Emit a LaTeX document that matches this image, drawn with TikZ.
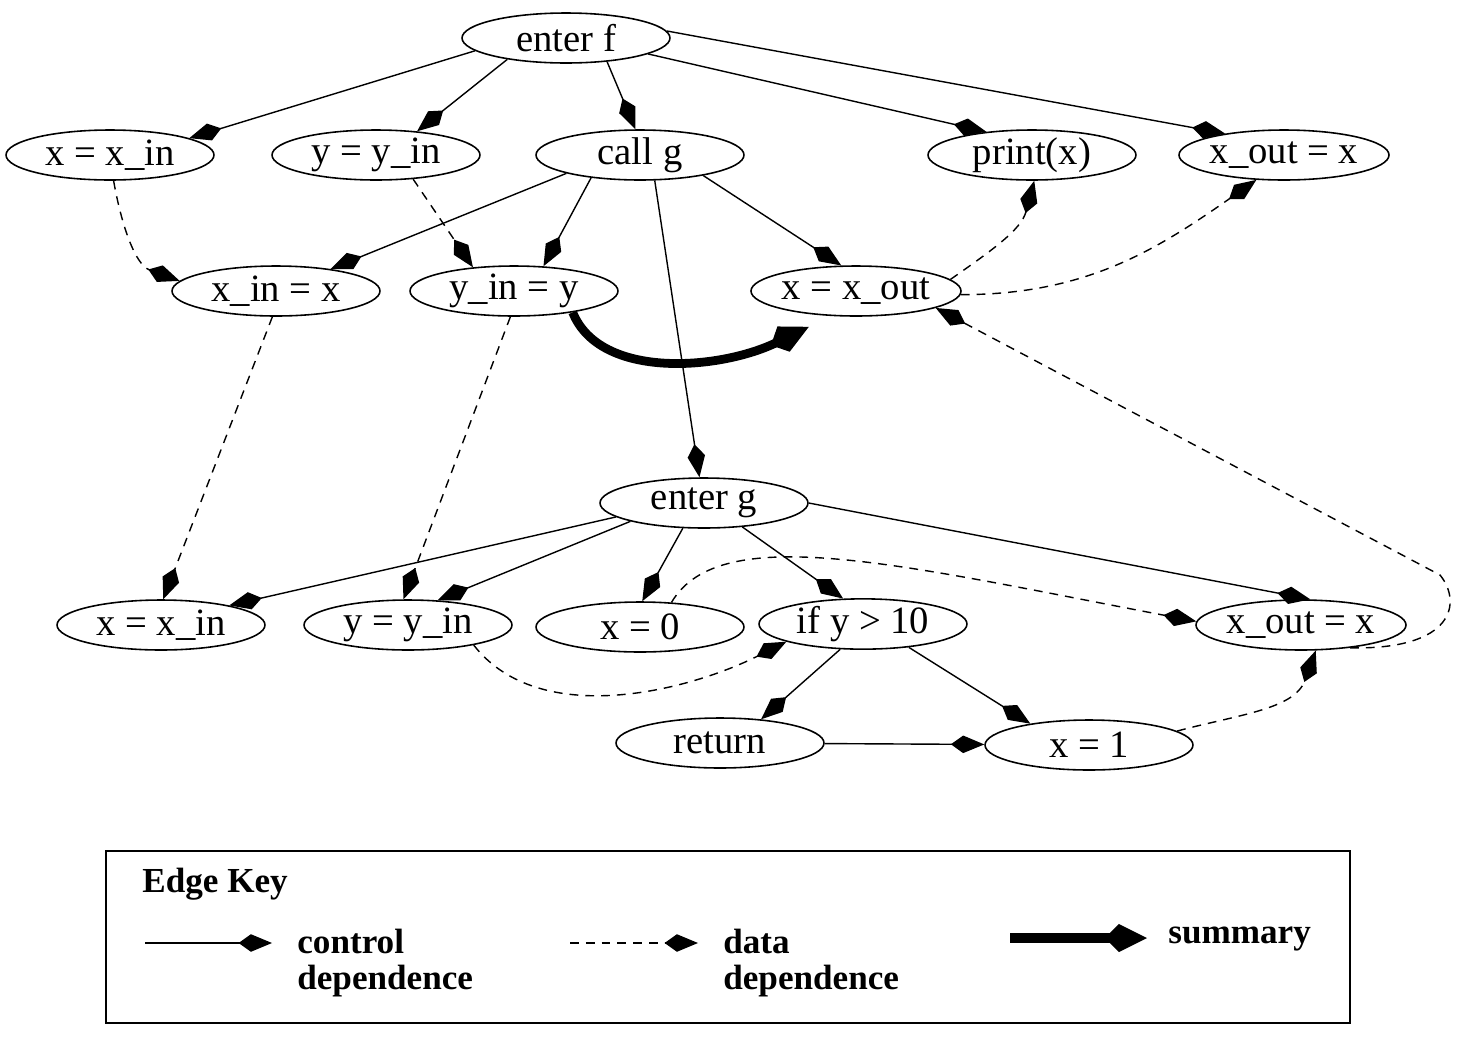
\documentclass[tikz,border=0pt]{standalone}
\RequirePackage{fontspec}
\RequirePackage{tikz}
\usetikzlibrary{shapes.geometric}
\usetikzlibrary{arrows.meta}
\setmainfont{Liberation Serif}

\begin{document}
\begin{tikzpicture}[x=0.02cm,y=0.02cm,
                    stmt/.style={ellipse,draw,line width=0.9pt,minimum width=4.16cm,minimum height=1cm,inner sep=0pt,font=\fontsize{22}{24}\selectfont},
                    ctrl/.style={line width=0.8pt,-{Kite[length=19pt,width=10pt,inset=7pt]}},
                    dat/.style={ctrl,dash pattern=on 5pt off 4pt},
                    summ/.style={line width=5pt,-{Kite[length=24pt,width=16pt,inset=8pt]},shorten >=14pt},
                    keytext/.style={font=\fontsize{20}{21}\selectfont\bfseries,align=left,anchor=west,inner sep=0pt}]
                    \useasboundingbox (0,0) rectangle (1472,-1046);

                    \node[stmt] (ef) at (566,-38) {enter f};
                    \node[stmt] (xin1) at (110,-155) {x = x\_in};
                    \node[stmt] (yin1) at (376,-155) {y = y\_in};
                    \node[stmt] (cg) at (640,-155) {call g};
                    \node[stmt] (pr) at (1032,-155) {print(x)};
                    \node[stmt] (xout1) at (1284,-155) {x\_out = x};
                    \node[stmt] (xin2) at (276,-291) {x\_in = x};
                    \node[stmt] (yin2) at (514,-291) {y\_in = y};
                    \node[stmt] (xout2) at (856,-291) {x = x\_out};
                    \node[stmt] (eg) at (704,-503) {enter g};
                    \node[stmt] (xin3) at (161,-625) {x = x\_in};
                    \node[stmt] (yin3) at (408,-625) {y = y\_in};
                    \node[stmt] (x0) at (640,-627) {x = 0};
                    \node[stmt] (ify) at (863,-624) {if y > 10};
                    \node[stmt] (xout3) at (1301,-625) {x\_out = x};
                    \node[stmt] (ret) at (720,-743) {return};
                    \node[stmt] (x1) at (1089,-745) {x = 1};

                    \draw[ctrl] (ef.188) -- (xin1.12);
                    \draw[ctrl] (ef.200) -- (yin1.30);
                    \draw[ctrl] (ef.330) -- (cg.100);
                    \draw[ctrl] (ef.349) -- (pr.153);
                    \draw[ctrl] (ef.4) -- (xout1.160);
                    \draw[ctrl] (cg.194) -- (xin2.22);
                    \draw[ctrl] (cg.205) -- (yin2.40);
                    \draw[ctrl] (cg.342) -- (xout2.120);
                    \draw[ctrl] (cg.300) -- (eg.100);
                    \draw[ctrl] (eg.189) -- (xin3.16);
                    \draw[ctrl] (eg.194) -- (yin3.40);
                    \draw[ctrl] (eg.230) -- (x0.85);
                    \draw[ctrl] (eg.328) -- (ify.128);
                    \draw[ctrl] (eg.0) -- (xout3.70);
                    \draw[ctrl] (ify.228) -- (ret.30);
                    \draw[ctrl] (ify.333) -- (x1.160);
                    \draw[ctrl] (ret) -- (x1);

                    \draw[dat] (xin1.278) to[out=-80,in=160] (xin2.174);
                    \draw[dat] (yin1.327) -- (yin2.150);
                    \draw[dat] (xin2.262) -- (xin3.85);
                    \draw[dat] (yin2.262) -- (yin3.100);
                    \draw[dat] (xout2.7) to[out=35,in=255] (pr.275);
                    \draw[dat] (xout2.358) to[out=0,in=215] (xout1.222);
                    \draw[dat] (xout3.335) .. controls (1455,-650) and (1462,-602) .. (1440,-575) -- (xout2.348);
                    \draw[dat] (yin3.343) .. controls (540,-730) and (690,-690) .. (ify.193);
                    \draw[dat] (x0.38) .. controls (720,-520) and (900,-565) .. (xout3.178);
                    \draw[dat] (x1.9) to[out=15,in=250] (xout3.300);

                    \draw[summ] (yin2.340) .. controls (600,-380) and (720,-370) .. (xout2.225);

                    \draw[line width=1.2pt] (106,-851) rectangle (1350,-1023);
                    \node[keytext] (ek) at (142,-884) {Edge Key};
                    \coordinate (c1) at (145,-943);
                    \coordinate (c2) at (272,-943);
                    \draw[ctrl] (c1) -- (c2);
                    \node[keytext] (ck) at (297,-963) {control\\dependence};
                    \coordinate (d1) at (570,-943);
                    \coordinate (d2) at (698,-943);
                    \draw[dat] (d1) -- (d2);
                    \node[keytext] (dk) at (723,-963) {data\\dependence};
                    \coordinate (s1) at (1010,-938);
                    \coordinate (s2) at (1147,-938);
                    \draw[summ,line width=6pt,shorten >=0pt] (s1) -- (s2);
                    \node[keytext] (sk) at (1168,-939) {summary};
\end{tikzpicture}
\end{document}
